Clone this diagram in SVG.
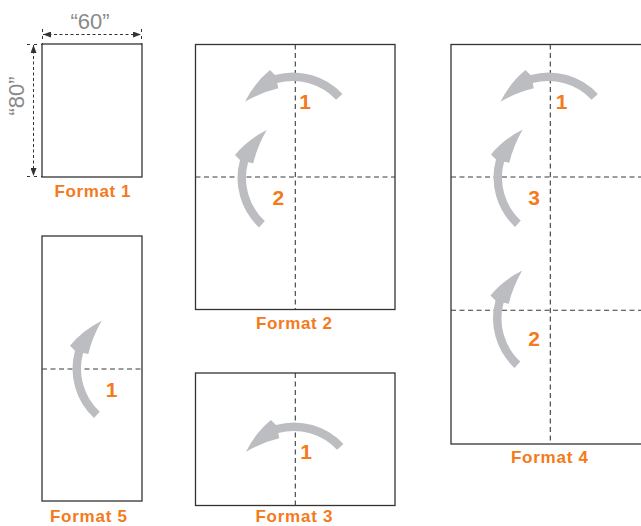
<svg xmlns="http://www.w3.org/2000/svg" xmlns:xlink="http://www.w3.org/1999/xlink" width="641" height="526" viewBox="0 0 641 526">
<style>
.page{fill:#fff;stroke:#333;stroke-width:1.3}
.fold{fill:none;stroke:#3a3a3a;stroke-width:1.1;stroke-dasharray:5 3.5}
.arr{fill:#bcbdc0}
.num{font-family:"Liberation Sans",Arial,sans-serif;font-weight:bold;font-size:21px;fill:#f47a20;text-anchor:middle}
.lbl{font-family:"Liberation Sans",Arial,sans-serif;font-weight:bold;font-size:17px;fill:#f47a20;text-anchor:middle}
.dimt{font-family:"Liberation Sans",Arial,sans-serif;font-size:22px;fill:#8a8a8a;text-anchor:middle}
.dim{fill:none;stroke:#333;stroke-width:1;stroke-dasharray:3 2.5}
.ext{fill:none;stroke:#333;stroke-width:1;stroke-dasharray:3 4}
</style>
<defs>
<path id="arrow" d="M 49.4 -46 A 67.5 67.5 0 0 0 -18 -65 L -23 -70 Q -38 -58 -48 -38.3 Q -31 -48 -14.7 -51.7 L -15.8 -56.9 A 59 59 0 0 1 43.1 -40.2 Z"/>
<marker id="ah" viewBox="0 0 8 6" refX="8" refY="3" markerWidth="8" markerHeight="6" markerUnits="userSpaceOnUse" orient="auto-start-reverse">
<path d="M0 0 L8 3 L0 6 Z" fill="#333"/>
</marker>
</defs>
<rect width="641" height="526" fill="#fff"/>

<g id="format1">
<rect class="page" x="42" y="44" width="100" height="133"/>
<text class="lbl" x="92.5" y="197.3" textLength="76" lengthAdjust="spacing">Format 1</text>
</g>

<g id="dimensions">
<line class="ext" x1="42.5" y1="29" x2="42.5" y2="44"/>
<line class="ext" x1="141.5" y1="29" x2="141.5" y2="44"/>
<line class="dim" x1="43" y1="34.5" x2="141" y2="34.5" marker-start="url(#ah)" marker-end="url(#ah)"/>
<text class="dimt" x="90" y="29">“60”</text>
<line class="ext" x1="27" y1="44.5" x2="42" y2="44.5"/>
<line class="ext" x1="27" y1="176.5" x2="42" y2="176.5"/>
<line class="dim" x1="33.5" y1="45" x2="33.5" y2="176" marker-start="url(#ah)" marker-end="url(#ah)"/>
<text class="dimt" transform="translate(24,96) rotate(-90)">“80”</text>
</g>

<g id="format2">
<rect class="page" x="195.5" y="44.5" width="199.5" height="265"/>
<line class="fold" x1="295.3" y1="44.5" x2="295.3" y2="309.5"/>
<line class="fold" x1="195.5" y1="177" x2="395" y2="177"/>
<use xlink:href="#arrow" class="arr" transform="translate(293,140)"/>
<use xlink:href="#arrow" class="arr" transform="matrix(0,1,1,0,305,178)"/>
<text class="num" x="305" y="109.3">1</text>
<text class="num" x="278.3" y="205">2</text>
<text class="lbl" x="294" y="329" textLength="76" lengthAdjust="spacing">Format 2</text>
</g>

<g id="format3">
<rect class="page" x="195.5" y="373" width="199.5" height="132.5"/>
<line class="fold" x1="295.3" y1="373" x2="295.3" y2="505.5"/>
<use xlink:href="#arrow" class="arr" transform="translate(294,490)"/>
<text class="num" x="306" y="458.7">1</text>
<text class="lbl" x="294" y="521.5" textLength="77" lengthAdjust="spacing">Format 3</text>
</g>

<g id="format4">
<rect class="page" x="451" y="44.5" width="200" height="399.5"/>
<line class="fold" x1="550.3" y1="44.5" x2="550.3" y2="444"/>
<line class="fold" x1="451" y1="177" x2="651" y2="177"/>
<line class="fold" x1="451" y1="310.3" x2="651" y2="310.3"/>
<use xlink:href="#arrow" class="arr" transform="translate(548.5,140)"/>
<use xlink:href="#arrow" class="arr" transform="matrix(0,1,1,0,561,177.5)"/>
<use xlink:href="#arrow" class="arr" transform="matrix(0,1,1,0,560.5,318.5)"/>
<text class="num" x="561.7" y="109.3">1</text>
<text class="num" x="534" y="205">3</text>
<text class="num" x="534" y="346">2</text>
<text class="lbl" x="549.5" y="462.7" textLength="77" lengthAdjust="spacing">Format 4</text>
</g>

<g id="format5">
<rect class="page" x="42" y="236" width="100" height="265"/>
<line class="fold" x1="42" y1="369" x2="142" y2="369"/>
<use xlink:href="#arrow" class="arr" transform="matrix(0,1,1,0,140,368.7)"/>
<text class="num" x="111.7" y="396.7">1</text>
<text class="lbl" x="88.5" y="521.5" textLength="77" lengthAdjust="spacing">Format 5</text>
</g>
</svg>
